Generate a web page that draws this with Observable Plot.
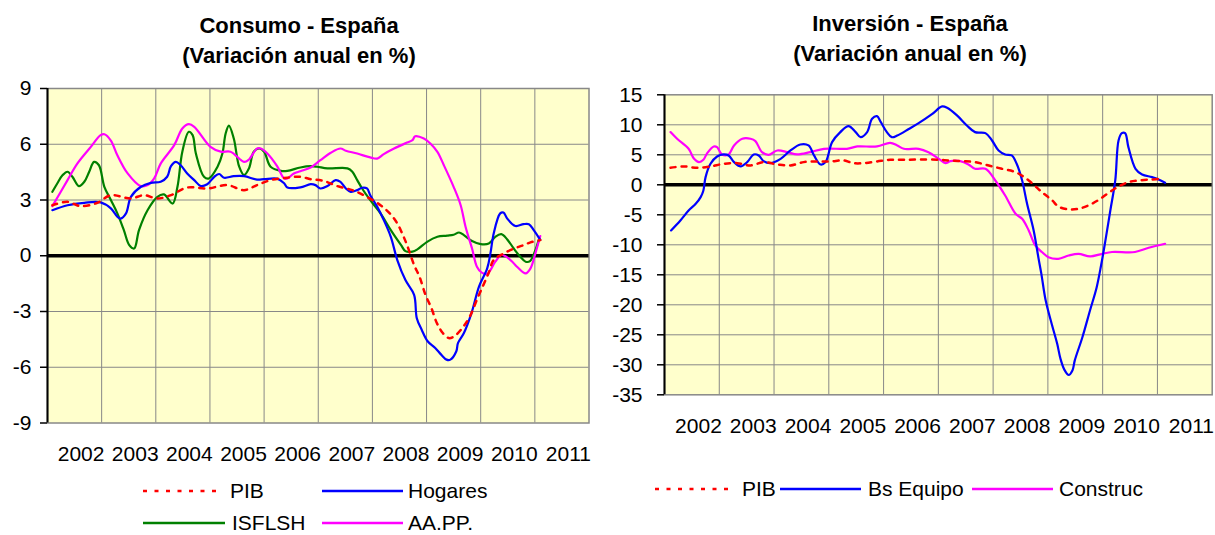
<!DOCTYPE html>
<html><head><meta charset="utf-8">
<script src="https://cdn.jsdelivr.net/npm/d3@7"></script>
<script src="https://cdn.jsdelivr.net/npm/@observablehq/plot@0.6"></script>
<style>
body{margin:0;background:#fff;font-family:"Liberation Sans",Arial,sans-serif;}
#wrap{position:relative;width:1215px;height:535px;overflow:hidden;background:#fff;}
#wrap svg.plotsvg{position:absolute;top:0;}
#overlay{position:absolute;left:0;top:0;pointer-events:none;}
</style></head><body><div id="wrap"></div>
<script>
// ---------- shared ----------
const years = ["2002","2003","2004","2005","2006","2007","2008","2009","2010","2011"];
const consumoTicks = [-9, -6, -3, 0, 3, 6, 9];
const inversionTicks = [-35, -30, -25, -20, -15, -10, -5, 0, 5, 10, 15];

// ---------- Consumo - España (t = years since start of axis, 0..10) ----------
const pibCT = [0.09,0.37,0.61,0.92,1.17,1.54,1.78,2.03,2.28,2.58,2.95,3.32,3.63,3.87,4.12,4.43,4.67,4.86,5.1,5.35,5.63,5.84,6.15,6.34,6.46,6.55,6.64,6.77,6.87,6.98,7.09,7.19,7.3,7.41,7.51,7.66,7.8,7.94,8.05,8.15,8.24,8.43,8.62,8.79,8.92,9.1];
const pibCV = [2.72,2.9,2.67,2.85,3.26,3.08,3.26,3.08,3.26,3.67,3.62,3.8,3.53,3.8,4.07,4.2,4.25,4.12,4.03,3.75,3.53,3.26,2.72,2.22,1.74,1.2,0.57,-0.5,-1.13,-2.1,-2.82,-3.62,-4.16,-4.43,-4.34,-3.89,-3.27,-2.29,-1.57,-0.9,-0.23,0.13,0.39,0.57,0.72,0.84];

const hogaresT = [0.09,0.37,0.68,0.98,1.17,1.29,1.35,1.45,1.54,1.72,1.91,2.09,2.21,2.28,2.37,2.46,2.58,2.71,2.83,2.95,3.08,3.17,3.26,3.44,3.63,3.87,4.0,4.24,4.37,4.43,4.67,4.86,4.95,5.04,5.17,5.32,5.41,5.51,5.6,5.72,5.81,5.9,5.96,6.09,6.21,6.34,6.46,6.61,6.77,6.82,6.91,7.02,7.16,7.27,7.37,7.44,7.55,7.58,7.69,7.83,7.97,8.12,8.18,8.24,8.36,8.42,8.49,8.64,8.79,8.89,8.98,9.1];
const hogaresV = [2.45,2.72,2.85,2.87,2.55,2.1,2.0,2.28,3.17,3.7,3.92,3.98,4.25,4.82,5.05,4.87,4.43,4.07,3.75,3.85,4.25,4.4,4.2,4.28,4.28,4.1,4.12,4.15,3.9,3.67,3.68,3.85,3.8,3.62,3.75,4.07,3.98,3.62,3.44,3.53,3.66,3.62,3.26,2.63,1.92,1.02,-0.23,-1.31,-2.1,-3.36,-3.98,-4.6,-4.96,-5.32,-5.59,-5.59,-5.14,-4.7,-4.16,-3.09,-1.65,-0.68,0.13,1.2,2.28,2.33,2.0,1.6,1.7,1.7,1.38,0.85];

const isflshT = [0.09,0.18,0.28,0.37,0.46,0.58,0.68,0.77,0.86,0.95,1.05,1.17,1.29,1.41,1.51,1.6,1.69,1.85,2.03,2.15,2.31,2.4,2.49,2.61,2.68,2.74,2.89,2.98,3.14,3.23,3.29,3.35,3.44,3.54,3.63,3.72,3.81,3.91,4.0,4.12,4.31,4.43,4.67,4.86,4.98,5.17,5.54,5.63,5.72,5.81,5.96,6.15,6.34,6.53,6.61,6.74,6.83,7.01,7.2,7.38,7.5,7.6,7.69,7.84,8.0,8.15,8.27,8.38,8.49,8.61,8.73,8.83,8.91,9.01,9.07];
const isflshV = [3.44,3.89,4.34,4.52,4.25,3.75,3.98,4.52,5.05,4.87,3.71,3.0,2.28,1.38,0.57,0.39,1.38,2.46,3.17,3.3,2.81,3.71,5.6,6.67,6.49,5.5,4.25,4.16,4.79,5.5,6.58,7.0,6.31,4.79,4.34,4.7,5.6,5.77,5.6,4.79,4.57,4.57,4.75,4.82,4.79,4.7,4.7,4.52,4.07,3.62,2.99,2.28,1.38,0.57,0.25,0.22,0.34,0.75,1.02,1.08,1.13,1.25,1.11,0.79,0.63,0.66,1.02,1.16,0.88,0.39,-0.05,-0.32,-0.29,0.3,0.84];

const aappT = [0.09,0.37,0.55,0.8,0.98,1.05,1.17,1.29,1.48,1.72,1.85,1.97,2.09,2.34,2.49,2.61,2.71,3.01,3.2,3.38,3.63,3.72,3.87,3.94,4.06,4.24,4.37,4.43,4.55,4.67,4.86,5.04,5.23,5.41,5.51,5.72,5.96,6.09,6.21,6.4,6.64,6.74,6.79,6.95,7.07,7.2,7.32,7.5,7.63,7.72,7.84,7.93,8.02,8.12,8.18,8.27,8.39,8.55,8.67,8.83,8.92,9.01,9.1];
const aappV = [2.67,4.07,4.96,5.86,6.49,6.54,6.2,5.41,4.43,3.75,3.8,4.16,4.96,5.95,6.85,7.08,6.94,5.86,5.6,5.6,5.05,5.18,5.77,5.77,5.5,4.82,4.16,4.16,4.43,4.55,4.75,5.14,5.54,5.77,5.65,5.5,5.29,5.23,5.47,5.77,6.09,6.22,6.43,6.31,6.04,5.59,4.87,3.71,2.72,1.56,0.39,-0.59,-0.91,-0.98,-0.77,-0.32,0.04,-0.23,-0.59,-0.95,-0.68,0.13,1.06];

// ---------- Inversión - España ----------
const pibIT = [0.11,0.35,0.6,0.84,1.08,1.33,1.57,1.81,2.06,2.3,2.54,2.79,3.03,3.27,3.45,3.64,3.88,4.12,4.37,4.67,5.01,5.19,5.43,5.67,5.92,6.16,6.41,6.65,6.89,7.08,7.19,7.38,7.56,7.74,7.93,8.11,8.29,8.47,8.65,8.9,9.1];
const pibIV = [2.83,3.06,2.83,3.06,3.5,3.61,3.22,3.78,3.39,3.22,3.78,3.89,3.89,4.06,3.61,3.61,3.89,4.17,4.17,4.22,4.17,4.06,3.94,3.78,3.22,2.67,2.11,0.72,-1.22,-2.61,-3.61,-4.11,-4.0,-3.44,-2.5,-1.33,-0.28,0.44,0.72,0.89,1.0];

const equipoT = [0.12,0.29,0.44,0.57,0.66,0.71,0.75,0.84,0.96,1.08,1.17,1.27,1.39,1.51,1.63,1.72,1.81,1.93,2.12,2.3,2.48,2.63,2.73,2.85,2.94,3.06,3.21,3.36,3.49,3.58,3.7,3.79,3.88,3.95,4.06,4.15,4.25,4.46,4.64,4.89,5.07,5.16,5.34,5.52,5.67,5.86,5.98,6.1,6.22,6.34,6.43,6.53,6.62,6.74,6.83,6.88,6.96,7.07,7.17,7.23,7.3,7.38,7.45,7.49,7.63,7.77,7.89,7.97,8.05,8.14,8.23,8.29,8.35,8.41,8.47,8.6,8.72,8.9,9.02,9.14];
const equipoV = [-7.6,-5.94,-4.28,-3.17,-2.06,-0.94,1.28,3.5,4.72,5.06,4.89,3.78,3.06,3.78,5.06,4.89,3.94,3.61,4.33,5.72,6.72,6.56,4.89,3.39,3.78,7.11,8.78,9.78,8.78,7.94,8.78,11.0,11.44,10.44,8.78,7.94,8.22,9.3,10.28,11.83,13.06,12.83,11.56,9.89,8.78,8.61,7.39,5.72,5.06,4.89,3.5,0.72,-3.17,-7.6,-12.3,-14.8,-19.3,-23.2,-26.5,-29.0,-30.8,-31.7,-30.9,-29.3,-25.4,-20.9,-17.1,-13.5,-9.3,-4.28,0.72,7.39,8.61,8.61,6.28,2.67,1.72,1.28,0.89,0.33];

const construcT = [0.11,0.23,0.44,0.54,0.63,0.71,0.78,0.9,0.96,1.05,1.17,1.27,1.42,1.57,1.66,1.78,1.9,2.06,2.24,2.42,2.66,2.91,3.33,3.52,3.88,4.12,4.25,4.37,4.64,4.82,5.01,5.13,5.22,5.4,5.55,5.67,5.86,6.04,6.22,6.41,6.53,6.65,6.77,6.89,7.01,7.19,7.38,7.56,7.77,7.99,8.17,8.59,8.84,9.14];
const construcV = [8.78,7.67,6.0,4.33,3.78,4.17,5.28,6.39,6.28,5.06,5.06,6.56,7.67,7.67,7.28,5.44,5.0,5.72,5.44,5.06,5.44,6.0,6.0,6.39,6.39,7.0,6.56,6.0,6.0,5.44,4.33,3.61,3.94,3.94,3.39,2.67,2.67,0.72,-1.78,-4.83,-5.67,-7.6,-10.1,-11.2,-12.06,-12.33,-11.78,-11.5,-11.94,-11.5,-11.2,-11.2,-10.5,-9.83];

// ---------- helpers ----------
const pts = (T, V) => T.map((t, i) => ({t, v: V[i]}));
const labelShift = 0.62;
const yearPos = years.map((y, i) => i + labelShift);
const FONT = "'Liberation Sans', Arial, sans-serif";

function chart({width, height, mt, mb, ml, mr, ticks, tickPadding, series}) {
  const lo = ticks[0], hi = ticks[ticks.length - 1];
  const inner = ticks.filter(d => d !== lo && d !== hi && d !== 0);
  return Plot.plot({
    width, height,
    marginTop: mt, marginBottom: mb, marginLeft: ml, marginRight: mr,
    x: {domain: [0, 10], axis: null, label: null},
    y: {domain: [lo, hi], axis: null, label: null},
    style: {fontFamily: FONT, fontSize: "21px", color: "#000", background: "transparent", overflow: "visible"},
    marks: [
      Plot.frame({fill: "#FFFFCC", stroke: null}),
      Plot.ruleX(d3.range(1, 10), {stroke: "#888", strokeOpacity: 1, strokeWidth: 1}),
      Plot.ruleY(inner, {stroke: "#888", strokeOpacity: 1, strokeWidth: 1}),
      Plot.frame({stroke: "#888", strokeWidth: 1.5}),
      Plot.ruleX([0], {stroke: "#000", strokeWidth: 2}),
      Plot.axisY({ticks, label: null, tickSize: 7, tickPadding, tickFormat: d => String(d), stroke: "#000", strokeWidth: 1.5, fill: "#000", fontSize: 21}),
      Plot.axisX({ticks: yearPos, label: null, tickSize: 0, tickPadding: 23, tickFormat: d => years[Math.round(d - labelShift)], fill: "#000", fontSize: 21}),
      Plot.ruleY([0], {stroke: "#000", strokeWidth: 3.5}),
      ...series.map(s => Plot.line(s.data, {
        x: "t", y: "v", stroke: s.color, strokeWidth: s.dash ? 2.5 : 2.2,
        strokeDasharray: s.dash || null, curve: "catmull-rom"
      }))
    ]
  });
}

const wrap = document.getElementById("wrap");

const left = chart({
  width: 605, height: 470, mt: 88, mb: 47.5, ml: 47, mr: 16.5,
  ticks: consumoTicks, tickPadding: 9,
  series: [
    {data: pts(isflshT, isflshV), color: "#008000"},
    {data: pts(aappT, aappV), color: "#FF00FF"},
    {data: pts(hogaresT, hogaresV), color: "#0000FF"},
    {data: pts(pibCT, pibCV), color: "#FF0000", dash: "5,6"}
  ]
});
left.classList.add("plotsvg");
left.style.left = "0px";
wrap.appendChild(left);

const right = chart({
  width: 610, height: 440, mt: 94.3, mb: 45.7, ml: 59, mr: 3.3,
  ticks: inversionTicks, tickPadding: 15,
  series: [
    {data: pts(construcT, construcV), color: "#FF00FF"},
    {data: pts(equipoT, equipoV), color: "#0000FF"},
    {data: pts(pibIT, pibIV), color: "#FF0000", dash: "5,6"}
  ]
});
right.classList.add("plotsvg");
right.style.left = "605px";
wrap.appendChild(right);

// ---------- titles and legends (overlay) ----------
const ns = "http://www.w3.org/2000/svg";
const ov = document.createElementNS(ns, "svg");
ov.setAttribute("id", "overlay");
ov.setAttribute("width", 1215);
ov.setAttribute("height", 535);
ov.style.fontFamily = FONT;
wrap.appendChild(ov);

function txt(x, y, s, opts = {}) {
  const e = document.createElementNS(ns, "text");
  e.setAttribute("x", x); e.setAttribute("y", y);
  e.setAttribute("font-size", opts.size || 21);
  if (opts.bold) e.setAttribute("font-weight", "bold");
  if (opts.anchor) e.setAttribute("text-anchor", opts.anchor);
  e.setAttribute("fill", "#000");
  e.textContent = s;
  ov.appendChild(e);
}
function seg(x1, x2, y, color, dash) {
  const e = document.createElementNS(ns, "line");
  e.setAttribute("x1", x1); e.setAttribute("x2", x2);
  e.setAttribute("y1", y); e.setAttribute("y2", y);
  e.setAttribute("stroke", color);
  e.setAttribute("stroke-width", dash ? 2.6 : 2.4);
  if (dash) e.setAttribute("stroke-dasharray", dash);
  ov.appendChild(e);
}

const titles = [
  {x: 299, y1: 33, y2: 63, l1: "Consumo - España", l2: "(Variación anual en %)"},
  {x: 910, y1: 31, y2: 61, l1: "Inversión - España", l2: "(Variación anual en %)"}
];
titles.forEach(t => {
  txt(t.x, t.y1, t.l1, {bold: true, size: 22, anchor: "middle"});
  txt(t.x, t.y2, t.l2, {bold: true, size: 22, anchor: "middle"});
});

const legendLeft = [
  {name: "PIB", color: "#FF0000", dash: "4,7.5", x1: 143, x2: 221, tx: 230, ly: 491, ty: 498},
  {name: "Hogares", color: "#0000FF", x1: 322, x2: 403, tx: 408, ly: 491, ty: 498},
  {name: "ISFLSH", color: "#008000", x1: 143, x2: 225, tx: 232, ly: 523, ty: 530},
  {name: "AA.PP.", color: "#FF00FF", x1: 322, x2: 403, tx: 408, ly: 523, ty: 530}
];
const legendRight = [
  {name: "PIB", color: "#FF0000", dash: "4,7.5", x1: 655, x2: 731, tx: 742, ly: 489, ty: 496},
  {name: "Bs Equipo", color: "#0000FF", x1: 780, x2: 861, tx: 868, ly: 489, ty: 496},
  {name: "Construc", color: "#FF00FF", x1: 972, x2: 1053, tx: 1059, ly: 489, ty: 496}
];
[...legendLeft, ...legendRight].forEach(l => {
  seg(l.x1, l.x2, l.ly, l.color, l.dash);
  txt(l.tx, l.ty, l.name);
});
</script>
</body></html>
